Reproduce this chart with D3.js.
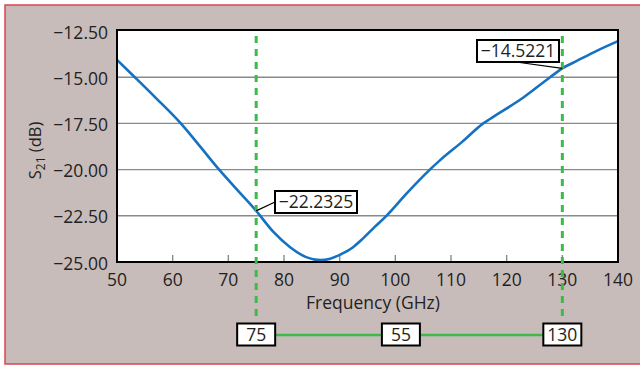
<!DOCTYPE html>
<html><head><meta charset="utf-8">
<script src="https://cdn.jsdelivr.net/npm/d3@7/dist/d3.min.js"></script>
<style>
html,body{margin:0;padding:0;background:#fff;}
svg{display:block;font-family:"Open Sans",Lato,sans-serif;}
</style></head>
<body>
<script>
const freq = [50, 53.2, 57, 61.3, 64.8, 68.2, 71.6, 75, 78.1, 81.1, 84.1, 86.5, 88.3, 90.1, 92.4, 94.2, 96.3, 98.4, 102, 106.2, 108, 112, 115.8, 117, 123, 127.8, 130, 132.6, 136, 140];
const s21  = [-14.06, -15.0, -16.13, -17.45, -18.7, -19.95, -21.1, -22.2325, -23.37, -24.2, -24.75, -24.9, -24.82, -24.6, -24.2, -23.72, -23.1, -22.5, -21.3, -20.0, -19.5, -18.5, -17.5, -17.26, -16.1, -15.0, -14.5221, -14.12, -13.6, -13.05];
const xTicks = [50, 60, 70, 80, 90, 100, 110, 120, 130, 140];
const yTicks = [-12.5, -15, -17.5, -20, -22.5, -25];
const markers = [75, 130];
const markerValues = [-22.2325, -14.5221];
const markerLabels = ["\u221222.2325", "\u221214.5221"];
const spanLabels = ["75", "55", "130"];

const W = 640, H = 367;
const L = 117, R = 618, T = 31, B = 262;
const FS = 17.5;
const ink = "#231f20";
const svg = d3.select("body").append("svg").attr("width", W).attr("height", H);
svg.append("rect").attr("width", W).attr("height", H).attr("fill", "#fff");
svg.append("rect").attr("x", 5).attr("y", 5).attr("width", W).attr("height", 359)
  .attr("fill", "#c8bcbb").attr("stroke", "#d9454e").attr("stroke-width", 1.5);

const x = d3.scaleLinear().domain([50, 140]).range([L, R]);
const y = d3.scaleLinear().domain([-25, -12.5]).range([B, T]);

svg.append("rect").attr("x", L).attr("y", T - 1).attr("width", R - L).attr("height", B - T + 1).attr("fill", "#fff");

// gridlines
svg.append("g").selectAll("line").data(yTicks.filter(d => d > -25 && d < -12.5)).join("line")
  .attr("x1", L).attr("x2", R).attr("y1", d => y(d)).attr("y2", d => y(d))
  .attr("stroke", "#8a8a8a").attr("stroke-width", 1.4);

// bottom inner ticks
svg.append("g").selectAll("line").data(xTicks.filter(d => d > 50 && d < 140)).join("line")
  .attr("x1", d => x(d)).attr("x2", d => x(d)).attr("y1", B).attr("y2", B - 7)
  .attr("stroke", "#8a8a8a").attr("stroke-width", 1.4);

// curve
const line = d3.line().x((d, i) => x(freq[i])).y(d => y(d)).curve(d3.curveMonotoneX);
svg.append("path").attr("d", line(s21)).attr("fill", "none")
  .attr("stroke", "#1572c2").attr("stroke-width", 2.6);

// frame
svg.append("rect").attr("x", L).attr("y", T - 1).attr("width", R - L).attr("height", B - T + 1)
  .attr("fill", "none").attr("stroke", "#000").attr("stroke-width", 2);

// axis labels
svg.append("g").selectAll("text").data(yTicks).join("text")
  .attr("x", L - 9).attr("y", d => y(d) + 7.5)
  .attr("text-anchor", "end").attr("font-size", FS).attr("fill", ink)
  .text(d => "\u2212" + Math.abs(d).toFixed(2));
svg.append("g").selectAll("text").data(xTicks).join("text")
  .attr("x", d => x(d)).attr("y", 285.5).attr("text-anchor", "middle")
  .attr("font-size", FS).attr("fill", ink).text(d => d);
svg.append("text").attr("x", 373).attr("y", 309).attr("text-anchor", "middle")
  .attr("font-size", 17.5).attr("fill", ink).text("Frequency (GHz)");
const yl = svg.append("text").attr("transform", `translate(41,${(T + B) / 2 + 4}) rotate(-90)`)
  .attr("text-anchor", "middle").attr("font-size", 16.5).attr("fill", ink);
yl.append("tspan").text("S");
yl.append("tspan").attr("font-size", 12).attr("dy", 4).text("21");
yl.append("tspan").attr("dy", -4).text(" (dB)");

// green dashed markers
svg.append("g").selectAll("line").data(markers).join("line")
  .attr("x1", d => x(d)).attr("x2", d => x(d)).attr("y1", 36).attr("y2", 318)
  .attr("stroke", "#3dba48").attr("stroke-width", 3).attr("stroke-dasharray", "7,6");

// span line
const spanY = 335;
svg.append("line").attr("x1", x(75)).attr("x2", x(130)).attr("y1", spanY).attr("y2", spanY)
  .attr("stroke", "#3dba48").attr("stroke-width", 2.5);

function box(cx, cy, w, h, txt) {
  svg.append("rect").attr("x", cx - w / 2).attr("y", cy - h / 2).attr("width", w).attr("height", h)
    .attr("fill", "#fff").attr("stroke", "#000").attr("stroke-width", 2);
  svg.append("text").attr("x", cx).attr("y", cy).attr("dy", "0.36em").attr("text-anchor", "middle")
    .attr("font-size", FS).attr("fill", ink).text(txt);
}
box(x(75), spanY - 0.5, 38, 22, spanLabels[0]);
box(x(101), spanY - 0.5, 38, 22, spanLabels[1]);
box(x(130), spanY - 0.5, 38, 22, spanLabels[2]);

// value callouts
const c1 = {x: x(75), y: y(markerValues[0])};
svg.append("line").attr("x1", c1.x).attr("y1", c1.y).attr("x2", 275).attr("y2", 202)
  .attr("stroke", "#000").attr("stroke-width", 1.2);
svg.append("rect").attr("x", 275).attr("y", 191).attr("width", 82).attr("height", 22)
  .attr("fill", "#fff").attr("stroke", "#000").attr("stroke-width", 2);
svg.append("text").attr("x", 316).attr("y", 202).attr("dy", "0.36em").attr("text-anchor", "middle")
  .attr("font-size", FS).attr("fill", ink).text(markerLabels[0]);

const c2 = {x: x(130), y: y(markerValues[1])};
svg.append("line").attr("x1", c2.x).attr("y1", c2.y).attr("x2", 516).attr("y2", 62)
  .attr("stroke", "#000").attr("stroke-width", 1.2);
svg.append("rect").attr("x", 477).attr("y", 40).attr("width", 82).attr("height", 22)
  .attr("fill", "#fff").attr("stroke", "#000").attr("stroke-width", 2);
svg.append("text").attr("x", 518).attr("y", 51).attr("dy", "0.36em").attr("text-anchor", "middle")
  .attr("font-size", FS).attr("fill", ink).text(markerLabels[1]);
</script>
</body></html>
